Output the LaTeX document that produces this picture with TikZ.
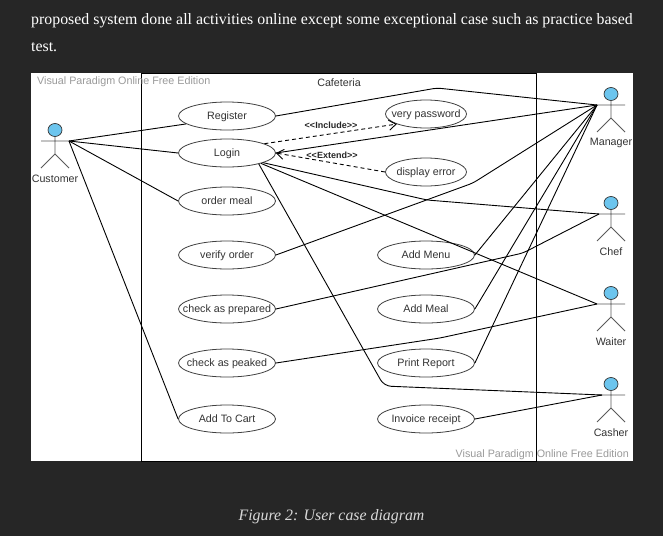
\documentclass[tikz,border=0pt]{standalone}
\usepackage{fontspec}
\setmainfont{Liberation Serif}
\setsansfont{Liberation Sans}
\usetikzlibrary{shapes.geometric,arrows.meta}
\definecolor{pagebg}{HTML}{262626}
\definecolor{headblue}{HTML}{6CC5EE}
\definecolor{linegray}{HTML}{5A5A5A}
\definecolor{markgray}{HTML}{9A9A9A}
\tikzset{
  usecase/.style={ellipse,draw=black!75,fill=white,line width=0.8pt,minimum width=97,minimum height=28,inner sep=0pt,font=\sffamily\fontsize{10.7}{12}\selectfont,text=black!80},
  shortcase/.style={usecase,minimum width=81},
  assoc/.style={black,line width=0.9pt,rounded corners=4},
  dep/.style={black,line width=0.9pt,dashed,dash pattern=on 4pt off 3pt,-{Straight Barb[length=7pt,width=10pt]}},
  deplabel/.style={font=\sffamily\bfseries\fontsize{9}{10}\selectfont,text=black!85},
  actorlabel/.style={font=\sffamily\fontsize{10.7}{12}\selectfont,text=black!80},
  watermark/.style={font=\sffamily\fontsize{10.75}{12}\selectfont,text=markgray}
}
% keeps a long label from widening its ellipse
\newcommand{\uc}[1]{\makebox[0pt]{\raisebox{-3.7pt}[0pt][0pt]{#1}}}
% actor: name, x, y of head, label, x of free hand
\newcommand{\actor}[5]{
  \begin{scope}[shift={(#2,#3)}]
    \draw[linegray,line width=0.9pt] (0,7) -- (0,24) (-14,11) -- (14,11) (-14,38) -- (0,24) -- (14,38);
    \draw[black!80,fill=headblue,line width=0.7pt] (0,0) ellipse (7 and 6.5);
    \node[actorlabel] (#1label) at (0,48.5) {#4};
    \coordinate (#1) at (#5,11);
  \end{scope}
}
\begin{document}
\begin{tikzpicture}[x=1pt,y=-1pt]
\useasboundingbox (0,0) rectangle (663,536);
\fill[pagebg] (0,0) rectangle (663,536);
% Text above
\node[anchor=base west,text=white,inner sep=0pt,font=\fontsize{15.87}{18}\selectfont] (para1) at (31,24) {proposed system done all activities online except some exceptional case such as practice based};
\node[anchor=base west,text=white,inner sep=0pt,font=\fontsize{15.87}{18}\selectfont] (para2) at (31,51) {test.};
% Panel
\fill[white] (31,73) rectangle (633,461);
\draw[black,line width=0.9pt] (141.5,73) rectangle (536,461);
\node[watermark,anchor=west,inner sep=0pt] (mark1) at (37,81.5) {Visual Paradigm Online Free Edition};
\node[watermark,anchor=east,inner sep=0pt] (mark2) at (629,455) {Visual Paradigm Online Free Edition};
\node[actorlabel] (system) at (339,83) {Cafeteria};
% Actors
\actor{customer}{55}{130}{Customer}{14}
\actor{manager}{611}{94}{Manager}{-14}
\actor{chef}{611}{203}{Chef}{-12}
\actor{waiter}{611}{293}{Waiter}{-14}
\actor{casher}{611}{384}{Casher}{-9}
% Use cases
\node[usecase] (register) at (227,116) {\uc{Register}};
\node[usecase] (login) at (227,153) {\uc{Login}};
\node[usecase] (order) at (227,201) {\uc{order meal}};
\node[usecase] (verify) at (227,255) {\uc{verify order}};
\node[usecase] (prepared) at (227,309) {\uc{check as prepared}};
\node[usecase] (peaked) at (227,363) {\uc{check as peaked}};
\node[usecase] (cart) at (227,419) {\uc{Add To Cart}};
\node[shortcase] (password) at (426,114) {\uc{very password}};
\node[shortcase] (error) at (426,172) {\uc{display error}};
\node[usecase] (menu) at (426,255) {\uc{Add Menu}};
\node[usecase] (meal) at (426,309) {\uc{Add Meal}};
\node[usecase] (report) at (426,363) {\uc{Print Report}};
\node[usecase] (invoice) at (426,419) {\uc{Invoice receipt}};
% Customer
\draw[assoc] (customer) -- (register.-169);
\draw[assoc] (customer) -- (login.west);
\draw[assoc] (customer) -- (order.west);
\draw[assoc] (customer) -- (cart.west);
% Manager
\draw[assoc] (register.east) -- (437,88) -- (manager);
\draw[assoc] (login.east) -- (manager);
\draw[assoc] (verify.east) -- (473,183) -- (manager);
\draw[assoc] (menu.east) -- (manager);
\draw[assoc] (meal.east) -- (manager);
\draw[assoc] (report.east) -- (manager);
% Chef
\draw[assoc] (login.-15) -- (427,200) -- (chef);
\draw[assoc] (prepared.east) -- (523,253) -- (chef);
% Waiter
\draw[assoc] (login.-17) -- (waiter);
\draw[assoc] (peaked.east) -- (440,338) -- (waiter);
% Casher
\draw[assoc,rounded corners=7] (login.-19) -- (384,386) -- (casher);
\draw[assoc] (invoice.east) -- (casher);
% Include and Extend
\draw[dep] (login.14) -- (password.-161);
\draw[dep] (error.west) -- (login.east);
\node[deplabel,inner sep=0pt] (include) at (331,125.5) {<{}<Include>{}>};
\node[deplabel,inner sep=0pt] (extend) at (332,155) {<{}<Extend>{}>};
% Caption
\node[text=black!15,inner sep=0pt,font=\itshape\fontsize{15.87}{18}\selectfont] (caption) at (331.5,517) {Figure 2: User case diagram};
\end{tikzpicture}
\end{document}
